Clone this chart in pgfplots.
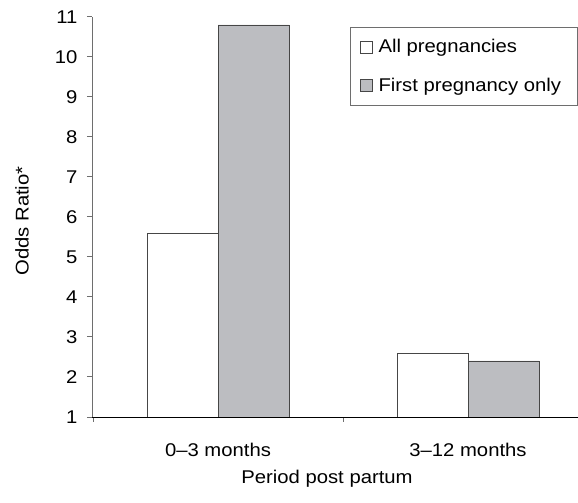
\documentclass[border=0pt]{standalone}
\usepackage{pgfplots}
\pgfplotsset{compat=1.18}
\usepackage{fontspec}
\setmainfont[FakeStretch=1.1]{Liberation Sans}
\definecolor{barfill}{RGB}{188,189,193}
\definecolor{edge}{RGB}{70,70,70}
\definecolor{axisgray}{RGB}{110,110,110}

\begin{document}
\begin{tikzpicture}
\useasboundingbox (0,0) rectangle (578bp,503bp);
\begin{axis}[
  at={(92bp,86bp)}, anchor=south west,
  scale only axis,
  width=486bp, height=400bp,
  xmin=-0.504, xmax=1.44,
  ymin=1, ymax=11,
  ytick={1,2,...,11},
  xtick={-0.5,0.5},
  xticklabels={},
  extra x ticks={0,1},
  extra x tick labels={0--3 months,3--12 months},
  extra x tick style={major tick length=0pt, tick label style={anchor=center, yshift=-33bp}},
  yticklabel style={xshift=-6bp},
  axis x line*=bottom,
  axis y line*=left,
  x axis line style={black, line width=0.8bp},
  y axis line style={axisgray, line width=1bp},
  tick style={axisgray, line width=1bp},
  tick align=outside,
  major tick length=5bp,
  ybar, bar width=71bp,
  every axis plot/.append style={draw=edge, line width=0.8bp},
  font=\fontsize{18.5}{22}\selectfont,
  /pgf/number format/assume math mode=true,
  ylabel={Odds Ratio*},
  ylabel style={at={(axis description cs:-0.144,0.49)}, anchor=center},
  xlabel={Period post partum},
  xlabel style={at={(axis description cs:0.4835,0)}, anchor=center, yshift=-62bp},
  legend style={at={(1,1)}, anchor=north east, xshift=-0.5bp, yshift=-10bp,
    draw=axisgray, line width=0.8bp, font=\fontsize{18.5}{22}\selectfont,
    row sep=20bp, inner xsep=10bp, inner ysep=10bp,
    nodes={inner xsep=6bp},
    legend cell align=left},
  legend image code/.code={\draw[#1, line width=0.6bp] (0bp,-6bp) rectangle (12bp,6bp);},
]
\addplot[fill=white, bar shift=-35.5bp] coordinates {(0,5.6) (1,2.6)};
\addplot[fill=barfill, bar shift=35.5bp] coordinates {(0,10.8) (1,2.4)};
\legend{All pregnancies, First pregnancy only}
\end{axis}
\end{tikzpicture}
\end{document}
